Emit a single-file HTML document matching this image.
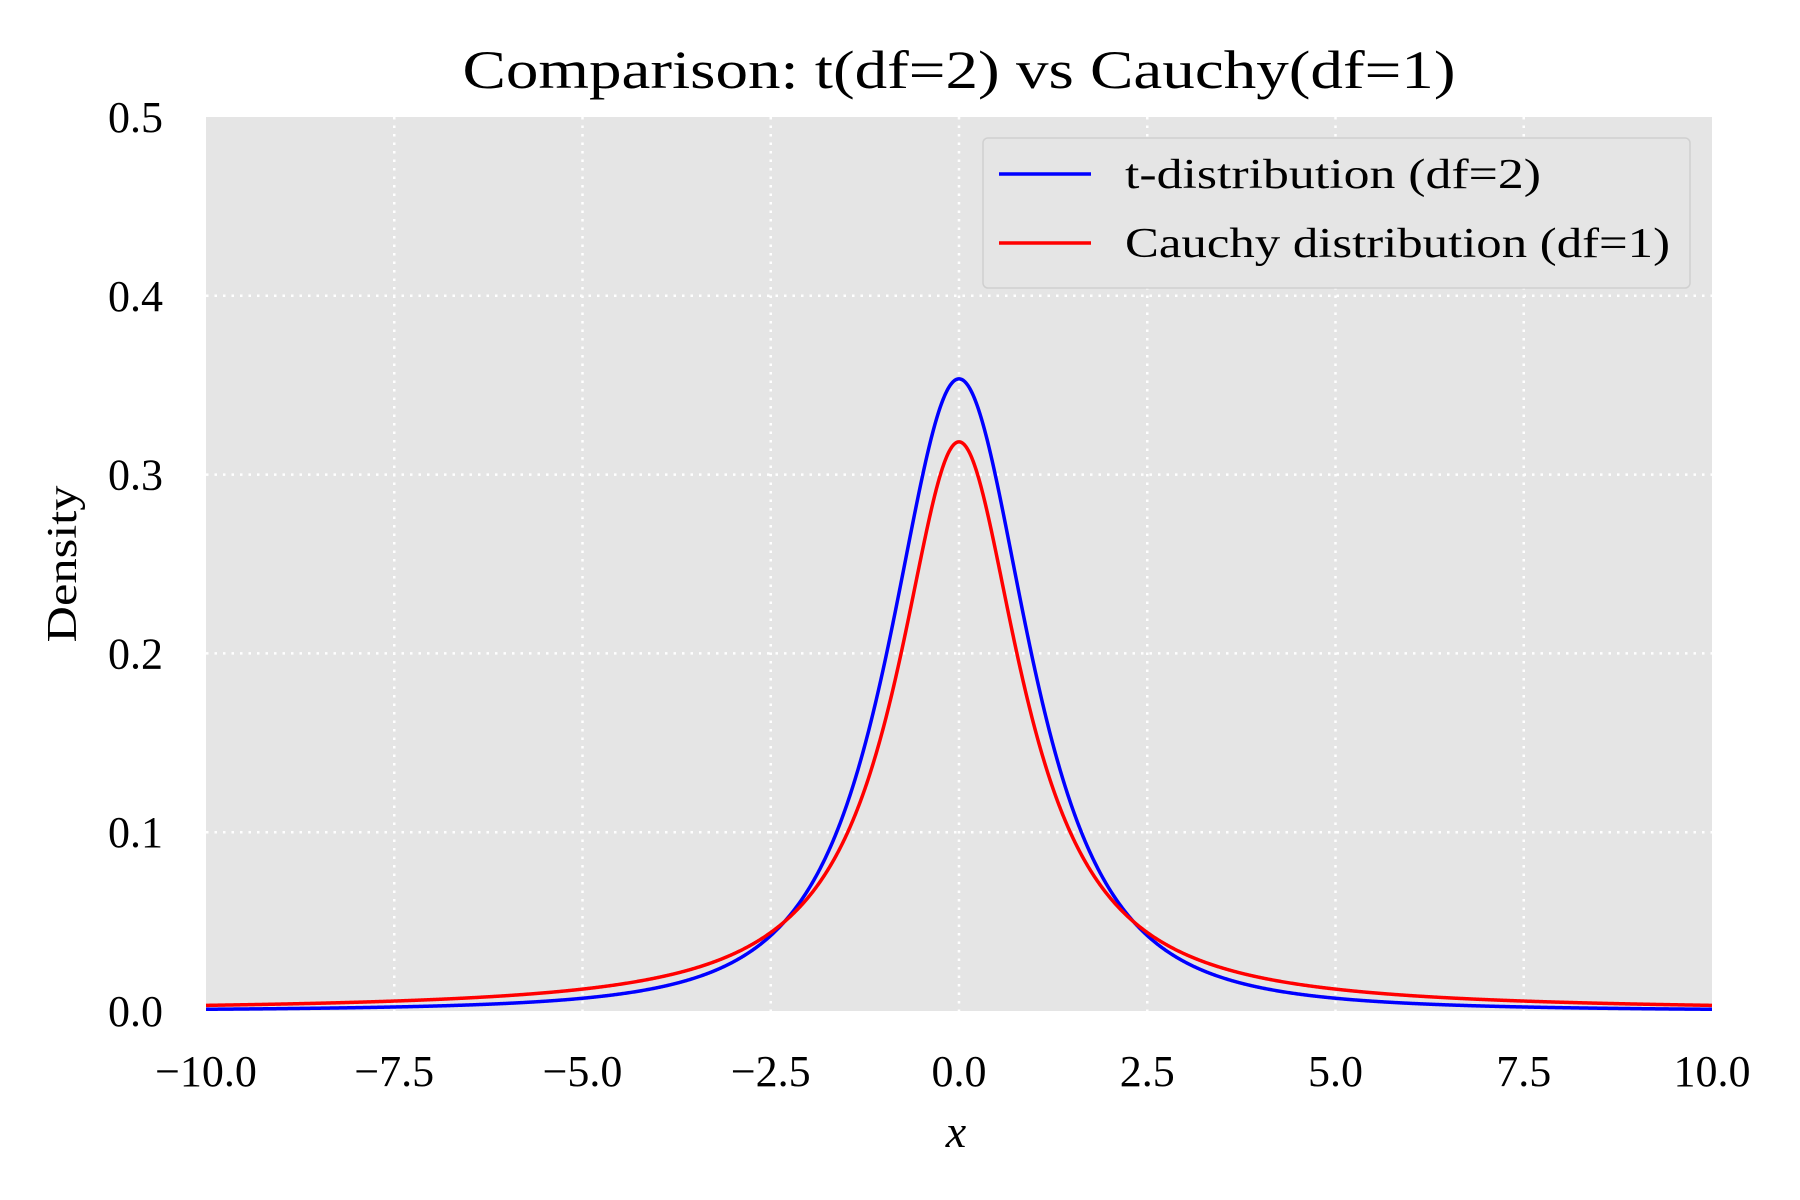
<!DOCTYPE html>
<html><head><meta charset="utf-8">
<style>
html,body{margin:0;padding:0;background:#fff;}
svg{display:block;}
text{font-family:"Liberation Serif","DejaVu Serif",serif;fill:#000;}
</style></head>
<body>
<svg id="s" width="1800" height="1200" viewBox="0 0 1800 1200" xmlns="http://www.w3.org/2000/svg">
<rect x="206" y="117" width="1506" height="894" fill="#e5e5e5"/>
<g id="grid" stroke="#fff" stroke-width="2.5" stroke-dasharray="2.5,6"></g>
<g id="curves" fill="none" stroke-width="3.5"></g>
<text x="959" y="88" font-size="54" text-anchor="middle" textLength="993" lengthAdjust="spacingAndGlyphs">Comparison: t(df=2) vs Cauchy(df=1)</text>
<g id="ticks" font-size="44"></g>
<text x="956" y="1147" font-size="46" font-style="italic" text-anchor="middle">x</text>
<text transform="translate(76,564) rotate(-90)" font-size="42" text-anchor="middle" textLength="157" lengthAdjust="spacingAndGlyphs">Density</text>
<rect x="983" y="138" width="707" height="150" rx="5" fill="#e5e5e5" stroke="#d0d0d0" stroke-width="1.5"/>
<line x1="999" y1="174" x2="1091" y2="174" stroke="#0000ff" stroke-width="3.5"/>
<line x1="999" y1="243" x2="1091" y2="243" stroke="#ff0000" stroke-width="3.5"/>
<text x="1125" y="188" font-size="42" textLength="416" lengthAdjust="spacingAndGlyphs">t-distribution (df=2)</text>
<text x="1125" y="257" font-size="42" textLength="545" lengthAdjust="spacingAndGlyphs">Cauchy distribution (df=1)</text>
</svg>
<script>
var NS="http://www.w3.org/2000/svg";
function X(x){return 206+(x+10)*75.3;}
function Y(y){return 1011-y*1788;}
function el(p,t,a,txt){var e=document.createElementNS(NS,t);for(var k in a)e.setAttribute(k,a[k]);if(txt!==undefined)e.textContent=txt;p.appendChild(e);return e;}
var g=document.getElementById('grid'),tk=document.getElementById('ticks'),cv=document.getElementById('curves');
for(var i=-4;i<=4;i++){var x=i*2.5;var px=X(x);
 if(i>-4&&i<4)el(g,'line',{x1:px,y1:117,x2:px,y2:1011});
 var lab=(x<0?'\u2212':'')+Math.abs(x).toFixed(1);
 el(tk,'text',{x:px,y:1086,'text-anchor':'middle'},lab);}
for(var j=0;j<=5;j++){var py=Y(j*0.1);
 if(j>0&&j<5)el(g,'line',{x1:206,y1:py,x2:1712,y2:py});
 el(tk,'text',{x:163,y:py+15,'text-anchor':'end'},(j*0.1).toFixed(1));}
function path(f){var d='';for(var k=0;k<=2000;k++){var x=-10+k*0.01;d+=(k?'L':'M')+X(x).toFixed(2)+','+Y(f(x)).toFixed(2);}return d;}
el(cv,'path',{d:path(function(x){return 1/(2*Math.SQRT2)*Math.pow(1+x*x/2,-1.5);}),stroke:'#0000ff'});
el(cv,'path',{d:path(function(x){return 1/(Math.PI*(1+x*x));}),stroke:'#ff0000'});
</script>
</body></html>
